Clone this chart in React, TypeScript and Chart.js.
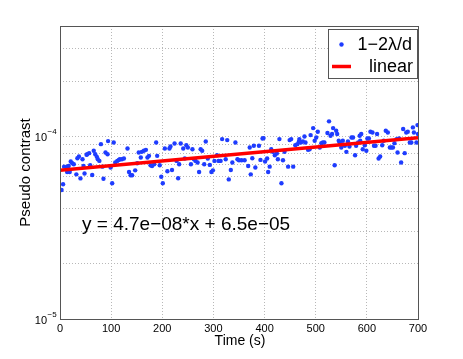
import { useEffect, useRef } from 'react';
import { Chart, registerables } from 'chart.js';
Chart.register(...registerables);

const timeS = [
  3, 6, 8, 14, 17, 14, 19, 21, 24, 27, 32, 34, 37, 40, 44, 46, 48, 52, 53, 57, 59, 63, 66, 69, 72, 74, 77, 80, 83, 85, 89, 93, 94, 99, 102, 105, 108, 112, 115,
  117, 121, 125, 132, 135, 138, 141, 147, 151, 154, 158, 160, 164, 168, 171, 174, 177, 180, 184, 188, 190, 195, 198, 201, 205, 210, 214, 216, 219, 224, 228, 231,
  233, 236, 241, 244, 247, 250, 256, 259, 262, 265, 269, 272, 275, 278, 282, 285, 289, 293, 296, 299, 302, 307, 310, 314, 317, 324, 327, 330, 334, 337, 343, 347,
  350, 355, 361, 368, 371, 373, 376, 379, 382, 389, 392, 396, 398, 401, 405, 407, 410, 413, 416, 420, 424, 426, 429, 433, 436, 439, 446, 449, 452, 456, 460, 464, 467,
  468, 471, 475, 478, 480, 485, 488, 490, 495, 498, 501, 504, 508, 511, 514, 517, 523, 526, 529, 532, 534, 537, 540, 542, 545, 547, 550, 553, 557, 560, 563, 566, 570, 573, 577, 579, 583, 586,
  587, 589, 592, 596, 599, 601, 604, 607, 611, 614, 617, 620, 623, 626, 630, 633, 637, 641, 645, 648, 651, 654, 658, 660, 663, 667, 671, 674, 677, 680, 684, 687, 690, 692, 697, 699, 700,
];
const contrast = [
  5.07e-5, 5.45e-5, 6.81e-5, 6.81e-5, 6.87e-5, 6.37e-5, 6.37e-5, 7.26e-5, 7.11e-5, 7.02e-5, 6.18e-5, 7.57e-5, 7.73e-5, 5.87e-5, 7.47e-5, 6.87e-5, 6.24e-5, 7.90e-5, 7.96e-5, 8.07e-5, 6.93e-5, 6.13e-5, 8.31e-5, 7.96e-5, 7.70e-5, 7.47e-5, 7.32e-5, 9.04e-5, 6.81e-5, 5.85e-5, 8.13e-5, 7.96e-5, 9.39e-5, 6.73e-5, 5.52e-5, 9.23e-5, 7.17e-5, 7.32e-5, 7.41e-5,
  7.47e-5, 7.47e-5, 7.54e-5, 8.55e-5, 6.37e-5, 6.11e-5, 6.11e-5, 6.50e-5, 7.11e-5, 8.13e-5, 7.64e-5, 8.20e-5, 8.31e-5, 8.41e-5, 7.64e-5, 7.80e-5, 6.93e-5, 6.87e-5, 7.02e-5, 9.23e-5, 7.80e-5, 6.93e-5, 6.00e-5, 5.52e-5, 8.55e-5, 6.42e-5, 8.55e-5, 8.77e-5, 6.53e-5, 9.11e-5, 7.32e-5, 5.88e-5,
  7.02e-5, 9.11e-5, 8.55e-5, 7.54e-5, 8.92e-5, 8.66e-5, 7.02e-5, 8.48e-5, 7.47e-5, 7.32e-5, 7.17e-5, 6.37e-5, 8.48e-5, 8.31e-5, 7.02e-5, 9.35e-5, 7.54e-5, 6.96e-5, 6.37e-5, 6.50e-5, 7.32e-5, 7.86e-5, 7.32e-5, 7.32e-5, 9.63e-5, 7.47e-5, 9.51e-5, 5.80e-5, 6.53e-5, 7.17e-5, 9.23e-5, 7.47e-5,
  7.38e-5, 7.38e-5, 7.38e-5, 6.87e-5, 8.66e-5, 6.18e-5, 7.57e-5, 8.85e-5, 6.73e-5, 8.85e-5, 7.41e-5, 9.71e-5, 9.75e-5, 7.26e-5, 7.54e-5, 6.37e-5, 6.81e-5, 8.48e-5, 8.20e-5, 7.86e-5, 8.04e-5, 7.47e-5, 9.63e-5, 5.52e-5, 7.38e-5, 8.20e-5, 6.81e-5, 9.51e-5, 9.63e-5, 6.81e-5, 8.92e-5, 9.04e-5, 9.31e-5,
  9.63e-5, 9.23e-5, 9.35e-5, 9.96e-5, 9.23e-5, 8.41e-5, 8.48e-5, 10.13e-5, 11.06e-5, 9.43e-5, 9.83e-5, 10.56e-5, 8.66e-5, 9.15e-5, 9.23e-5, 9.23e-5, 10.39e-5, 12.04e-5, 10.04e-5, 10.26e-5, 11.06e-5, 6.93e-5, 10.70e-5, 10.26e-5, 9.43e-5, 9.23e-5, 8.66e-5, 9.43e-5, 8.85e-5, 8.20e-5, 9.35e-5, 8.77e-5, 9.83e-5, 9.83e-5, 7.86e-5, 8.85e-5, 9.23e-5, 10.04e-5,
  9.43e-5, 10.26e-5, 8.48e-5, 8.92e-5, 8.31e-5, 9.71e-5, 9.71e-5, 10.56e-5, 10.47e-5, 8.85e-5, 8.85e-5, 10.26e-5, 7.54e-5, 7.73e-5, 8.92e-5, 9.43e-5, 10.70e-5, 10.47e-5, 8.66e-5, 8.66e-5, 8.66e-5, 9.15e-5, 9.63e-5, 8.13e-5, 9.71e-5, 7.17e-5, 10.93e-5, 8.07e-5, 10.47e-5, 10.56e-5, 9.23e-5, 9.23e-5, 11.16e-5, 10.47e-5, 9.23e-5, 11.49e-5, 10.26e-5,
];
const fitX = [0, 700];
const fitY = [6.5e-5, 9.79e-5];

const xTickValues = [0, 100, 200, 300, 400, 500, 600, 700];
const yGridValues = [1e-5, 2e-5, 3e-5, 4e-5, 5e-5, 6e-5, 7e-5, 8e-5, 9e-5, 1e-4, 2e-4, 3e-4, 4e-4];
const yLabelValues = [1e-5, 1e-4];
const yLabelExponents = ['−5', '−4'];
const seriesNames = ['1−2λ/d', 'linear'];
const equationText = 'y = 4.7e−08*x + 6.5e−05';
const xTitle = 'Time (s)';
const yTitle = 'Pseudo contrast';

const FONT = '"Liberation Sans", Arial, Helvetica, sans-serif';
const BLUE = 'rgb(30,60,255)';
const RED = 'rgb(255,0,0)';
const GRID = '#b8b8b8';
const AXIS = '#555555';

const decor = {
  id: 'decor',
  afterDatasetsDraw(chart: any) {
    const { ctx, chartArea, scales } = chart;
    const { left, top, right, bottom } = chartArea;
    const y = scales.y;
    ctx.save();
    // axes box
    ctx.strokeStyle = AXIS;
    ctx.lineWidth = 1;
    ctx.strokeRect(Math.round(left) + 0.5, Math.round(top) + 0.5, Math.round(right - left), Math.round(bottom - top));

    // y tick labels 10^n
    ctx.fillStyle = '#000';
    yLabelValues.forEach((v, i) => {
      const py = y.getPixelForValue(v);
      ctx.font = `11px ${FONT}`;
      ctx.textAlign = 'right';
      ctx.textBaseline = 'alphabetic';
      ctx.fillText('10', 47, py + 5);
      ctx.font = `8px ${FONT}`;
      ctx.textAlign = 'left';
      ctx.fillText(yLabelExponents[i], 47.5, py - 2);
    });

    // axis titles
    ctx.font = `14px ${FONT}`;
    ctx.textAlign = 'center';
    ctx.textBaseline = 'alphabetic';
    ctx.fillText(xTitle, 240, 344.5);
    ctx.save();
    ctx.translate(30, (top + bottom) / 2);
    ctx.rotate(-Math.PI / 2);
    ctx.font = `15px ${FONT}`;
    ctx.fillText(yTitle, 0, 0);
    ctx.restore();

    // equation text
    ctx.font = `19px ${FONT}`;
    ctx.textAlign = 'left';
    ctx.fillText(equationText, 82, 230);

    // legend
    const lx = 328.5, ly = 29.5, lw = 89, lh = 49;
    ctx.fillStyle = '#fff';
    ctx.fillRect(lx, ly, lw, lh);
    ctx.strokeStyle = AXIS;
    ctx.strokeRect(lx, ly, lw, lh);
    ctx.fillStyle = BLUE;
    ctx.beginPath();
    ctx.arc(341.5, 44.5, 2.2, 0, Math.PI * 2);
    ctx.fill();
    ctx.strokeStyle = RED;
    ctx.lineWidth = 3.5;
    ctx.beginPath();
    ctx.moveTo(332, 66.5);
    ctx.lineTo(351, 66.5);
    ctx.stroke();
    ctx.fillStyle = '#000';
    ctx.font = `18px ${FONT}`;
    ctx.textAlign = 'right';
    ctx.textBaseline = 'middle';
    ctx.fillText(seriesNames[0], 412, 45);
    ctx.fillText(seriesNames[1], 413, 67);
    ctx.restore();
  },
};

export default function App() {
  const ref = useRef<HTMLCanvasElement>(null);
  useEffect(() => {
    if (!ref.current) return;
    const points = timeS.map((t, i) => ({ x: t, y: contrast[i] }));
    const fit = fitX.map((t, i) => ({ x: t, y: fitY[i] }));
    const chart = new Chart(ref.current, {
      type: 'scatter',
      data: {
        datasets: [
          {
            label: seriesNames[1],
            data: fit,
            showLine: true,
            borderColor: RED,
            borderWidth: 3.5,
            pointRadius: 0,
            order: 0,
          },
          {
            label: seriesNames[0],
            data: points,
            showLine: false,
            backgroundColor: BLUE,
            borderWidth: 0,
            pointRadius: 2.2,
            order: 1,
          },
        ],
      },
      options: {
        responsive: false,
        animation: false,
        events: [],
        layout: { padding: { left: 0, top: 26, right: 45, bottom: 0 } },
        plugins: { legend: { display: false }, tooltip: { enabled: false } },
        scales: {
          x: {
            type: 'linear',
            min: 0,
            max: 700,
            afterBuildTicks: (s: any) => {
              s.ticks = xTickValues.map((v) => ({ value: v }));
            },
            afterFit: (s: any) => {
              s.height = 40;
            },
            ticks: {
              autoSkip: false,
              maxRotation: 0,
              padding: 3,
              color: '#000',
              font: { family: FONT, size: 11 },
            },
            grid: { color: GRID, drawTicks: false, lineWidth: 1 },
            border: { display: false, dash: [1, 2] },
          },
          y: {
            type: 'logarithmic',
            min: 1e-5,
            max: 4e-4,
            afterBuildTicks: (s: any) => {
              s.ticks = yGridValues.map((v) => ({ value: v }));
            },
            afterFit: (s: any) => {
              s.width = 60;
            },
            ticks: { display: false, autoSkip: false },
            grid: { color: GRID, drawTicks: false, lineWidth: 1 },
            border: { display: false, dash: [1, 2] },
          },
        },
      },
      plugins: [decor],
    } as any);
    return () => chart.destroy();
  }, []);
  return (
    <div style={{ position: 'absolute', left: 0, top: 0, width: 463, height: 359, background: '#fff' }}>
      <canvas ref={ref} width={463} height={359} style={{ display: 'block' }} />
    </div>
  );
}
